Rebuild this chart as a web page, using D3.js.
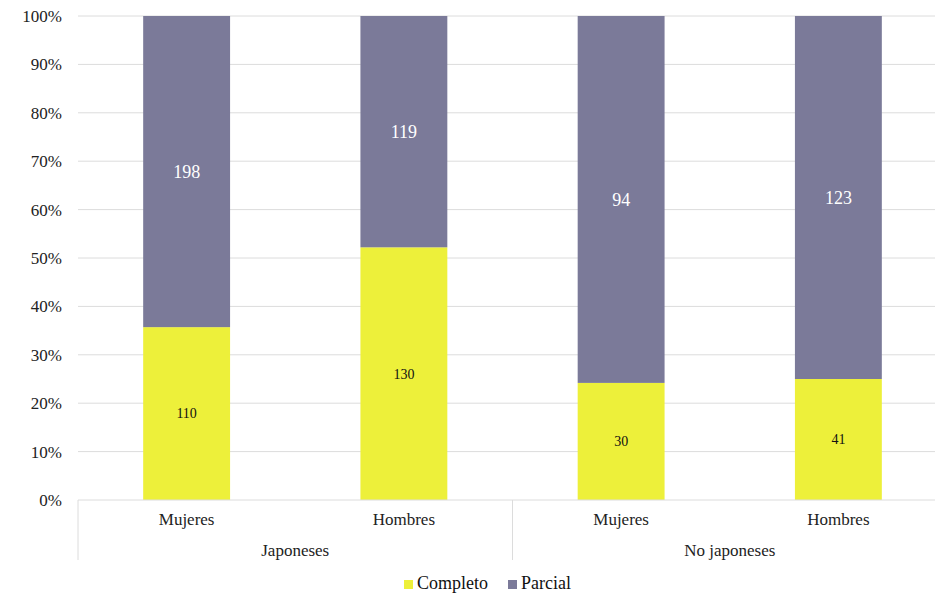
<!DOCTYPE html>
<html><head><meta charset="utf-8">
<script src="https://cdn.jsdelivr.net/npm/d3@7"></script>
<style>body{margin:0;background:#fff}</style>
</head><body>
<svg id="c" width="935" height="594"></svg>
<script>
const groups = ["Japoneses","Japoneses","No japoneses","No japoneses"];
const categories = ["Mujeres","Hombres","Mujeres","Hombres"];
const completo = [110,130,30,41];
const parcial = [198,119,94,123];
const seriesNames = ["Completo","Parcial"];
const colors = ["#EDF03A","#7B7A99"];
const yTicks = [0,0.1,0.2,0.3,0.4,0.5,0.6,0.7,0.8,0.9,1];

const FONT = "Liberation Serif";
const svg = d3.select("#c");
const L = 78, R = 935, T = 16, B = 500;
const x = d3.scaleBand().domain(d3.range(categories.length)).range([L,947]).paddingInner(0.6).paddingOuter(0.3);
const y = d3.scaleLinear().domain([0,1]).range([B,T]);

// gridlines
svg.append("g").selectAll("line").data(yTicks.slice(1)).join("line")
  .attr("x1",L).attr("x2",R).attr("y1",d=>y(d)).attr("y2",d=>y(d))
  .attr("stroke","#dcdcdc").attr("stroke-width",1);

// y axis labels
const yAxis = d3.axisLeft(y).tickValues(yTicks).tickFormat(d3.format(".0%")).tickSize(0).tickPadding(16);
const ya = svg.append("g").attr("transform",`translate(${L},0)`).call(yAxis);
ya.attr("font-family",FONT).attr("font-size",17);
ya.select(".domain").remove();
ya.selectAll("text").attr("fill","#222");

// stacked data
const data = categories.map((c,i)=>{
  const tot = completo[i]+parcial[i];
  return {i, c:completo[i], p:parcial[i], cf:completo[i]/tot, pf:parcial[i]/tot};
});
const bars = svg.append("g");
bars.selectAll("rect.c").data(data).join("rect").attr("class","c")
  .attr("x",d=>x(d.i)).attr("width",x.bandwidth())
  .attr("y",d=>y(d.cf)).attr("height",d=>y(0)-y(d.cf)).attr("fill",colors[0]);
bars.selectAll("rect.p").data(data).join("rect").attr("class","p")
  .attr("x",d=>x(d.i)).attr("width",x.bandwidth())
  .attr("y",d=>y(1)).attr("height",d=>y(d.cf)-y(1)).attr("fill",colors[1]);

// labels
bars.selectAll("text.c").data(data).join("text").attr("class","c")
  .attr("x",d=>x(d.i)+x.bandwidth()/2).attr("y",d=>y(d.cf/2)).attr("dy","0.35em")
  .attr("text-anchor","middle").attr("font-family",FONT).attr("font-size",14).attr("fill","#111")
  .text(d=>d.c);
bars.selectAll("text.p").data(data).join("text").attr("class","p")
  .attr("x",d=>x(d.i)+x.bandwidth()/2).attr("y",d=>y(d.cf+d.pf/2)).attr("dy","0.35em")
  .attr("text-anchor","middle").attr("font-family",FONT).attr("font-size",18).attr("fill","#fff")
  .text(d=>d.p);

// x axis
const ax = svg.append("g");
ax.append("line").attr("x1",L).attr("x2",R).attr("y1",B).attr("y2",B).attr("stroke","#dcdcdc");
const groupNames = Array.from(new Set(groups));
const sepX = [L];
for(let i=1;i<categories.length;i++){ if(groups[i]!==groups[i-1]) sepX.push((x(i-1)+x.bandwidth()+x(i))/2); }
ax.selectAll("line.s").data(sepX).join("line").attr("class","s")
  .attr("x1",d=>d).attr("x2",d=>d).attr("y1",B).attr("y2",560).attr("stroke","#dcdcdc");
ax.selectAll("text.cat").data(categories).join("text").attr("class","cat")
  .attr("x",(d,i)=>x(i)+x.bandwidth()/2).attr("y",525).attr("text-anchor","middle")
  .attr("font-family",FONT).attr("font-size",17).attr("fill","#222").text(d=>d);
ax.selectAll("text.grp").data(groupNames).join("text").attr("class","grp")
  .attr("x",g=>{const idx=groups.map((v,i)=>v===g?i:-1).filter(i=>i>=0);
     return (x(idx[0])+x(idx[idx.length-1])+x.bandwidth())/2;})
  .attr("y",556).attr("text-anchor","middle")
  .attr("font-family",FONT).attr("font-size",17).attr("fill","#222").text(d=>d);

// legend
const lg = svg.append("g").attr("transform","translate(404,0)");
const items = [{n:seriesNames[0],c:colors[0],x:0},{n:seriesNames[1],c:colors[1],x:104}];
items.forEach(it=>{
  lg.append("rect").attr("x",it.x).attr("y",580).attr("width",9).attr("height",9).attr("fill",it.c);
  lg.append("text").attr("x",it.x+13).attr("y",589)
    .attr("font-family",FONT).attr("font-size",18).attr("fill","#111").text(it.n);
});
</script>
</body></html>
